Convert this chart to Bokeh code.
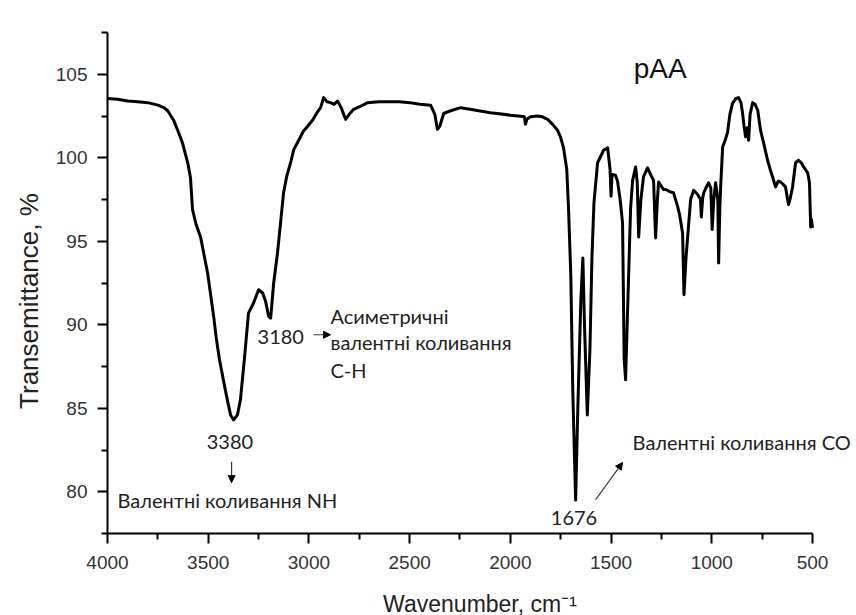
from bokeh.plotting import figure
from bokeh.models import Range1d, FixedTicker, Label, Arrow, NormalHead, ColumnDataSource
from bokeh.embed import file_html
from bokeh.resources import INLINE

# ---- data ----
wavenumber = [4000, 3950, 3900, 3850, 3800, 3750, 3720, 3700, 3672, 3650, 3628, 3600, 3588, 3578,
              3560, 3538, 3503, 3473, 3460, 3444, 3420, 3400, 3389, 3374, 3355, 3340, 3320, 3300,
              3275, 3250, 3230, 3215, 3200, 3190, 3175, 3156, 3140, 3126, 3110, 3091, 3075, 3057,
              3040, 3027, 3005, 2982, 2960, 2942, 2927, 2910, 2893, 2875, 2858, 2840, 2818, 2800,
              2778, 2740, 2709, 2650, 2600, 2550, 2500, 2450, 2396, 2375, 2362, 2350, 2331, 2300,
              2247, 2200, 2150, 2100, 2065, 2000, 1960, 1930, 1925, 1918, 1900, 1865, 1840, 1815,
              1790, 1766, 1750, 1736, 1720, 1711, 1700, 1690, 1676, 1665, 1650, 1640, 1632, 1618,
              1605, 1595, 1585, 1567, 1537, 1517, 1505, 1500, 1495, 1478, 1468, 1455, 1443, 1435,
              1428, 1420, 1403, 1393, 1378, 1370, 1363, 1352, 1339, 1319, 1300, 1289, 1279, 1270,
              1264, 1240, 1229, 1205, 1190, 1170, 1160, 1145, 1138, 1128, 1115, 1105, 1090, 1070,
              1056, 1052, 1045, 1040, 1025, 1016, 1005, 998, 990, 981, 970, 966, 960, 956, 946,
              935, 922, 910, 897, 880, 867, 855, 847, 840, 832, 825, 817, 810, 797, 785, 772, 758,
              743, 723, 710, 698, 683, 670, 658, 645, 634, 625, 619, 610, 599, 584, 569, 555, 544,
              524, 515, 509, 505, 500]
transmittance = [103.55, 103.5, 103.4, 103.35, 103.3, 103.15, 103.0, 102.8, 102.25, 101.6, 100.9,
                 99.6, 98.8, 96.9, 96.0, 95.25, 93.1, 90.5, 89.2, 87.9, 86.4, 85.2, 84.6, 84.3,
                 84.6, 85.5, 88.0, 90.7, 91.3, 92.1, 91.9, 91.4, 90.5, 90.4, 92.5, 94.3, 96.2,
                 97.9, 98.9, 99.7, 100.5, 100.9, 101.3, 101.6, 101.9, 102.25, 102.7, 103.0, 103.6,
                 103.35, 103.3, 103.2, 103.4, 103.0, 102.3, 102.6, 102.9, 103.1, 103.3, 103.35,
                 103.35, 103.35, 103.3, 103.2, 103.15, 102.6, 101.7, 101.9, 102.65, 102.8, 103.0,
                 102.9, 102.8, 102.7, 102.65, 102.55, 102.5, 102.45, 102.0, 102.3, 102.45, 102.5,
                 102.45, 102.3, 102.0, 101.65, 101.2, 100.6, 99.3, 96.9, 93.0, 86.0, 79.5, 85.0,
                 91.5, 94.0, 90.0, 84.6, 88.5, 94.0, 97.3, 99.7, 100.45, 100.6, 99.3, 97.7, 99.0,
                 98.95, 98.6, 97.5, 96.1, 88.0, 86.7, 90.0, 97.0, 98.65, 99.45, 98.5, 95.25, 97.5,
                 98.85, 99.4, 98.9, 98.65, 95.2, 97.5, 98.55, 98.1, 98.1, 97.95, 97.9, 97.1, 96.6,
                 95.5, 91.8, 94.0, 96.0, 97.5, 98.05, 97.8, 97.5, 96.45, 97.6, 97.9, 98.3, 98.5,
                 98.2, 95.7, 97.5, 98.5, 97.5, 93.7, 97.0, 98.25, 100.65, 101.0, 101.5, 102.6,
                 103.25, 103.55, 103.6, 103.3, 102.65, 101.9, 101.25, 101.8, 101.05, 102.6, 103.3,
                 103.2, 102.85, 101.65, 100.9, 99.85, 99.3, 98.85, 98.25, 98.6, 98.55, 98.4, 98.25,
                 97.6, 97.2, 97.6, 98.25, 99.7, 99.85, 99.7, 99.45, 99.1, 98.5, 95.85, 96.3, 95.8]

x_major_ticks = [4000, 3500, 3000, 2500, 2000, 1500, 1000, 500]
x_minor_ticks = [3750, 3250, 2750, 2250, 1750, 1250, 750]
y_major_ticks = [80, 85, 90, 95, 100, 105]
y_minor_ticks = [77.5, 82.5, 87.5, 92.5, 97.5, 102.5, 107.5]

title_text = "pAA"
x_label = "Wavenumber, cm\u207b\u00b9"
y_label = "Transemittance, %"

# annotations: (text, x, y)
peak_labels = [("3180", 3255, 89.25), ("3380", 3392, 82.95), ("1676", 1684, 78.45)]
desc_labels = [("Асиметричні", 2893, 90.5), ("валентні коливання", 2893, 88.95),
               ("C-H", 2893, 87.3), ("Валентні коливання NH", 3950, 79.52),
               ("Валентні коливання CO", 1393, 82.95)]
arrows = [(2977, 89.4, 2893, 89.4), (3384, 81.8, 3384, 80.55), (1577, 79.52, 1443, 81.75)]

# ---- figure ----
# the frame reaches past 500 cm-1 so that the right-hand note is not clipped;
# the x axis itself is bounded to 4000..500
p = figure(frame_width=745, frame_height=501, output_backend="svg", toolbar_location=None,
           x_range=Range1d(4000, 301.4), y_range=Range1d(77.5, 107.5),
           min_border_left=107, min_border_right=0, min_border_top=32, min_border_bottom=80)
p.outline_line_color = None
p.grid.visible = False
p.background_fill_color = "white"
p.border_fill_color = "white"

src = ColumnDataSource(dict(x=wavenumber, y=transmittance))
p.line("x", "y", source=src, line_color="black", line_width=3, line_join="round")

p.xaxis.ticker = FixedTicker(ticks=x_major_ticks, minor_ticks=x_minor_ticks)
p.yaxis.ticker = FixedTicker(ticks=y_major_ticks, minor_ticks=y_minor_ticks)
p.xaxis.bounds = (500, 4000)

for ax in (p.xaxis[0], p.yaxis[0]):
    ax.axis_line_width = 2
    ax.axis_line_color = "black"
    ax.major_tick_line_width = 2
    ax.minor_tick_line_width = 2
    ax.major_tick_line_color = "black"
    ax.minor_tick_line_color = "black"
    ax.major_tick_in = 0
    ax.major_tick_out = 10
    ax.minor_tick_in = 0
    ax.minor_tick_out = 6
    ax.major_label_text_font = "Liberation Sans"
    ax.major_label_text_font_size = "19px"
    ax.major_label_text_color = "#333333"
    ax.axis_label_text_font = "Liberation Sans"
    ax.axis_label_text_font_style = "normal"
    ax.axis_label_text_color = "#222222"

p.xaxis.axis_label = x_label
p.xaxis.axis_label_text_font_size = "23px"
p.xaxis.major_label_standoff = 12
p.xaxis.axis_label_standoff = 19
# trailing no-break spaces push the rotated label a little lower, as in the reference
p.yaxis.axis_label = y_label + "\u00a0" * 5
p.yaxis.axis_label_text_font_size = "26px"
p.yaxis.major_label_standoff = 10
p.yaxis.axis_label_standoff = 9

p.add_layout(Label(x=1388, y=105.36, text=title_text, text_font="Liberation Sans",
                   text_font_size="28px", text_baseline="alphabetic", text_align="left",
                   text_color="#111111"))

for t, x, y in peak_labels:
    p.add_layout(Label(x=x, y=y, text=t, text_font="Lato", text_font_size="20px",
                       text_baseline="middle",
                       text_align="left" if t == "3180" else "center", text_color="#222222"))
for t, x, y in desc_labels:
    p.add_layout(Label(x=x, y=y, text=t, text_font="Lato", text_font_size="20px",
                       text_baseline="middle", text_align="left", text_color="#222222"))
for x0, y0, x1, y1 in arrows:
    p.add_layout(Arrow(end=NormalHead(size=7, fill_color="black", line_color="black"),
                       x_start=x0, y_start=y0, x_end=x1, y_end=y1,
                       line_color="#333333", line_width=1.2))

open("out.html", "w").write(file_html(p, INLINE))
